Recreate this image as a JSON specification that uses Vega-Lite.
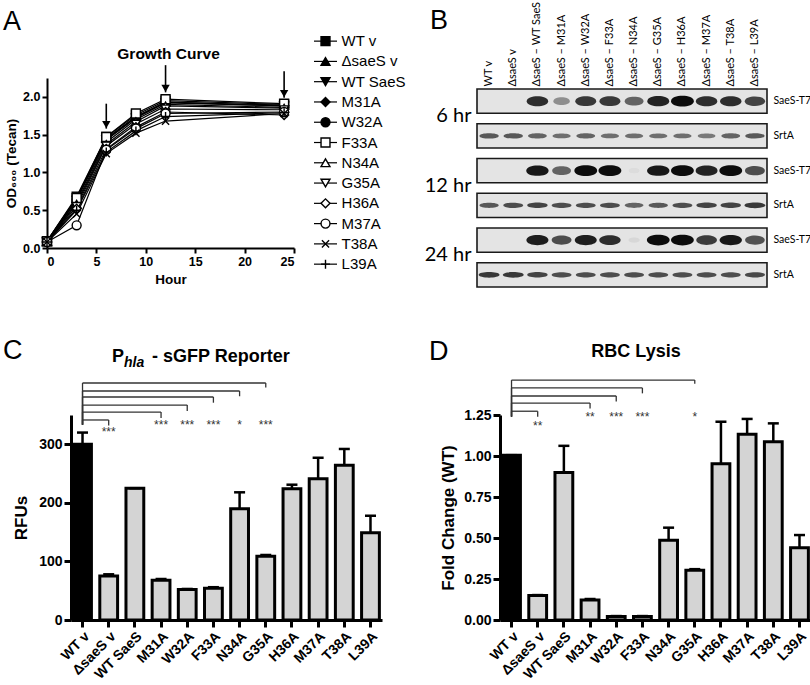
{
  "$schema": "https://vega.github.io/schema/vega-lite/v6.json",
  "padding": 0,
  "background": "white",
  "config": {
    "font": "Liberation Sans",
    "view": {"stroke": null},
    "axis": {"grid": false, "domainColor": "black", "tickColor": "black", "labelColor": "black", "titleColor": "black", "labelFontWeight": "bold", "titleFontWeight": "bold"}
  },
  "datasets": {
    "growth": [
      {"strain": "WT v", "hour": 0, "od": 0.09}, {"strain": "WT v", "hour": 3, "od": 0.68}, {"strain": "WT v", "hour": 6, "od": 1.47}, {"strain": "WT v", "hour": 9, "od": 1.76}, {"strain": "WT v", "hour": 12, "od": 1.95}, {"strain": "WT v", "hour": 24, "od": 1.9},
      {"strain": "ΔsaeS v", "hour": 0, "od": 0.09}, {"strain": "ΔsaeS v", "hour": 3, "od": 0.66}, {"strain": "ΔsaeS v", "hour": 6, "od": 1.45}, {"strain": "ΔsaeS v", "hour": 9, "od": 1.74}, {"strain": "ΔsaeS v", "hour": 12, "od": 1.93}, {"strain": "ΔsaeS v", "hour": 24, "od": 1.89},
      {"strain": "WT SaeS", "hour": 0, "od": 0.08}, {"strain": "WT SaeS", "hour": 3, "od": 0.63}, {"strain": "WT SaeS", "hour": 6, "od": 1.43}, {"strain": "WT SaeS", "hour": 9, "od": 1.72}, {"strain": "WT SaeS", "hour": 12, "od": 1.92}, {"strain": "WT SaeS", "hour": 24, "od": 1.88},
      {"strain": "M31A", "hour": 0, "od": 0.08}, {"strain": "M31A", "hour": 3, "od": 0.6}, {"strain": "M31A", "hour": 6, "od": 1.4}, {"strain": "M31A", "hour": 9, "od": 1.7}, {"strain": "M31A", "hour": 12, "od": 1.9}, {"strain": "M31A", "hour": 24, "od": 1.86},
      {"strain": "W32A", "hour": 0, "od": 0.08}, {"strain": "W32A", "hour": 3, "od": 0.64}, {"strain": "W32A", "hour": 6, "od": 1.44}, {"strain": "W32A", "hour": 9, "od": 1.73}, {"strain": "W32A", "hour": 12, "od": 1.93}, {"strain": "W32A", "hour": 24, "od": 1.88},
      {"strain": "F33A", "hour": 0, "od": 0.09}, {"strain": "F33A", "hour": 3, "od": 0.66}, {"strain": "F33A", "hour": 6, "od": 1.47}, {"strain": "F33A", "hour": 9, "od": 1.78}, {"strain": "F33A", "hour": 12, "od": 1.97}, {"strain": "F33A", "hour": 24, "od": 1.91},
      {"strain": "N34A", "hour": 0, "od": 0.08}, {"strain": "N34A", "hour": 3, "od": 0.58}, {"strain": "N34A", "hour": 6, "od": 1.37}, {"strain": "N34A", "hour": 9, "od": 1.67}, {"strain": "N34A", "hour": 12, "od": 1.88}, {"strain": "N34A", "hour": 24, "od": 1.85},
      {"strain": "G35A", "hour": 0, "od": 0.08}, {"strain": "G35A", "hour": 3, "od": 0.55}, {"strain": "G35A", "hour": 6, "od": 1.35}, {"strain": "G35A", "hour": 9, "od": 1.64}, {"strain": "G35A", "hour": 12, "od": 1.84}, {"strain": "G35A", "hour": 24, "od": 1.83},
      {"strain": "H36A", "hour": 0, "od": 0.08}, {"strain": "H36A", "hour": 3, "od": 0.52}, {"strain": "H36A", "hour": 6, "od": 1.31}, {"strain": "H36A", "hour": 9, "od": 1.6}, {"strain": "H36A", "hour": 12, "od": 1.8}, {"strain": "H36A", "hour": 24, "od": 1.76},
      {"strain": "M37A", "hour": 0, "od": 0.08}, {"strain": "M37A", "hour": 3, "od": 0.3}, {"strain": "M37A", "hour": 6, "od": 1.3}, {"strain": "M37A", "hour": 9, "od": 1.58}, {"strain": "M37A", "hour": 12, "od": 1.78}, {"strain": "M37A", "hour": 24, "od": 1.8},
      {"strain": "T38A", "hour": 0, "od": 0.08}, {"strain": "T38A", "hour": 3, "od": 0.45}, {"strain": "T38A", "hour": 6, "od": 1.25}, {"strain": "T38A", "hour": 9, "od": 1.52}, {"strain": "T38A", "hour": 12, "od": 1.68}, {"strain": "T38A", "hour": 24, "od": 1.78},
      {"strain": "L39A", "hour": 0, "od": 0.08}, {"strain": "L39A", "hour": 3, "od": 0.5}, {"strain": "L39A", "hour": 6, "od": 1.27}, {"strain": "L39A", "hour": 9, "od": 1.55}, {"strain": "L39A", "hour": 12, "od": 1.74}, {"strain": "L39A", "hour": 24, "od": 1.79}
    ],
    "arrows": [
      {"hour": 6, "top": 1.91, "tip": 1.58},
      {"hour": 12, "top": 2.42, "tip": 2.06},
      {"hour": 24, "top": 2.34, "tip": 1.99}
    ],
    "bars": [
      {"strain": "WT v", "rfu": 300, "rfu_hi": 320, "fc": 1.005, "fc_hi": 1.005},
      {"strain": "ΔsaeS v", "rfu": 75, "rfu_hi": 78, "fc": 0.149, "fc_hi": 0.152},
      {"strain": "WT SaeS", "rfu": 225, "rfu_hi": 225, "fc": 0.9, "fc_hi": 1.062},
      {"strain": "M31A", "rfu": 68, "rfu_hi": 70, "fc": 0.122, "fc_hi": 0.128},
      {"strain": "W32A", "rfu": 52, "rfu_hi": 53, "fc": 0.022, "fc_hi": 0.024},
      {"strain": "F33A", "rfu": 54, "rfu_hi": 56, "fc": 0.022, "fc_hi": 0.024},
      {"strain": "N34A", "rfu": 190, "rfu_hi": 218, "fc": 0.487, "fc_hi": 0.563},
      {"strain": "G35A", "rfu": 109, "rfu_hi": 111, "fc": 0.304, "fc_hi": 0.31},
      {"strain": "H36A", "rfu": 224, "rfu_hi": 231, "fc": 0.952, "fc_hi": 1.209},
      {"strain": "M37A", "rfu": 241, "rfu_hi": 277, "fc": 1.132, "fc_hi": 1.226},
      {"strain": "T38A", "rfu": 264, "rfu_hi": 292, "fc": 1.087, "fc_hi": 1.199},
      {"strain": "L39A", "rfu": 149, "rfu_hi": 178, "fc": 0.44, "fc_hi": 0.518}
    ],
    "cmpC": [
      {"from": "WT v", "to": "ΔsaeS v", "level": 341.5, "drop": 332, "star": "***", "sy": 328.8},
      {"from": "WT v", "to": "M31A", "level": 355, "drop": 345, "star": "***", "sy": 342},
      {"from": "WT v", "to": "W32A", "level": 367, "drop": 357, "star": "***", "sy": 342},
      {"from": "WT v", "to": "F33A", "level": 380.7, "drop": 371, "star": "***", "sy": 342},
      {"from": "WT v", "to": "N34A", "level": 391, "drop": 382, "star": "*", "sy": 342},
      {"from": "WT v", "to": "G35A", "level": 404.6, "drop": 397, "star": "***", "sy": 342}
    ],
    "cmpD": [
      {"from": "WT v", "to": "ΔsaeS v", "level": 1.273, "drop": 1.24, "star": "**", "sy": 1.213},
      {"from": "WT v", "to": "M31A", "level": 1.323, "drop": 1.29, "star": "**", "sy": 1.268},
      {"from": "WT v", "to": "W32A", "level": 1.366, "drop": 1.333, "star": "***", "sy": 1.268},
      {"from": "WT v", "to": "F33A", "level": 1.415, "drop": 1.382, "star": "***", "sy": 1.268},
      {"from": "WT v", "to": "G35A", "level": 1.463, "drop": 1.44, "star": "*", "sy": 1.268}
    ],
    "blot": [
      {"row": "6 hr|SaeS-T7", "lane": "WT  v", "v": 0}, {"row": "6 hr|SaeS-T7", "lane": "ΔsaeS  v", "v": 0}, {"row": "6 hr|SaeS-T7", "lane": "ΔsaeS – WT SaeS", "v": 0.85}, {"row": "6 hr|SaeS-T7", "lane": "ΔsaeS – M31A", "v": 0.4}, {"row": "6 hr|SaeS-T7", "lane": "ΔsaeS – W32A", "v": 0.8}, {"row": "6 hr|SaeS-T7", "lane": "ΔsaeS – F33A", "v": 0.8}, {"row": "6 hr|SaeS-T7", "lane": "ΔsaeS – N34A", "v": 0.6}, {"row": "6 hr|SaeS-T7", "lane": "ΔsaeS – G35A", "v": 0.9}, {"row": "6 hr|SaeS-T7", "lane": "ΔsaeS – H36A", "v": 1}, {"row": "6 hr|SaeS-T7", "lane": "ΔsaeS – M37A", "v": 0.85}, {"row": "6 hr|SaeS-T7", "lane": "ΔsaeS – T38A", "v": 0.85}, {"row": "6 hr|SaeS-T7", "lane": "ΔsaeS – L39A", "v": 0.75},
      {"row": "6 hr|SrtA", "lane": "WT  v", "v": 0.65}, {"row": "6 hr|SrtA", "lane": "ΔsaeS  v", "v": 0.65}, {"row": "6 hr|SrtA", "lane": "ΔsaeS – WT SaeS", "v": 0.6}, {"row": "6 hr|SrtA", "lane": "ΔsaeS – M31A", "v": 0.55}, {"row": "6 hr|SrtA", "lane": "ΔsaeS – W32A", "v": 0.6}, {"row": "6 hr|SrtA", "lane": "ΔsaeS – F33A", "v": 0.55}, {"row": "6 hr|SrtA", "lane": "ΔsaeS – N34A", "v": 0.55}, {"row": "6 hr|SrtA", "lane": "ΔsaeS – G35A", "v": 0.55}, {"row": "6 hr|SrtA", "lane": "ΔsaeS – H36A", "v": 0.55}, {"row": "6 hr|SrtA", "lane": "ΔsaeS – M37A", "v": 0.5}, {"row": "6 hr|SrtA", "lane": "ΔsaeS – T38A", "v": 0.6}, {"row": "6 hr|SrtA", "lane": "ΔsaeS – L39A", "v": 0.65},
      {"row": "12 hr|SaeS-T7", "lane": "WT  v", "v": 0}, {"row": "12 hr|SaeS-T7", "lane": "ΔsaeS  v", "v": 0}, {"row": "12 hr|SaeS-T7", "lane": "ΔsaeS – WT SaeS", "v": 0.95}, {"row": "12 hr|SaeS-T7", "lane": "ΔsaeS – M31A", "v": 0.6}, {"row": "12 hr|SaeS-T7", "lane": "ΔsaeS – W32A", "v": 1}, {"row": "12 hr|SaeS-T7", "lane": "ΔsaeS – F33A", "v": 1}, {"row": "12 hr|SaeS-T7", "lane": "ΔsaeS – N34A", "v": 0.04}, {"row": "12 hr|SaeS-T7", "lane": "ΔsaeS – G35A", "v": 0.95}, {"row": "12 hr|SaeS-T7", "lane": "ΔsaeS – H36A", "v": 1}, {"row": "12 hr|SaeS-T7", "lane": "ΔsaeS – M37A", "v": 0.9}, {"row": "12 hr|SaeS-T7", "lane": "ΔsaeS – T38A", "v": 1}, {"row": "12 hr|SaeS-T7", "lane": "ΔsaeS – L39A", "v": 0.7},
      {"row": "12 hr|SrtA", "lane": "WT  v", "v": 0.65}, {"row": "12 hr|SrtA", "lane": "ΔsaeS  v", "v": 0.7}, {"row": "12 hr|SrtA", "lane": "ΔsaeS – WT SaeS", "v": 0.75}, {"row": "12 hr|SrtA", "lane": "ΔsaeS – M31A", "v": 0.7}, {"row": "12 hr|SrtA", "lane": "ΔsaeS – W32A", "v": 0.7}, {"row": "12 hr|SrtA", "lane": "ΔsaeS – F33A", "v": 0.7}, {"row": "12 hr|SrtA", "lane": "ΔsaeS – N34A", "v": 0.6}, {"row": "12 hr|SrtA", "lane": "ΔsaeS – G35A", "v": 0.65}, {"row": "12 hr|SrtA", "lane": "ΔsaeS – H36A", "v": 0.7}, {"row": "12 hr|SrtA", "lane": "ΔsaeS – M37A", "v": 0.75}, {"row": "12 hr|SrtA", "lane": "ΔsaeS – T38A", "v": 0.75}, {"row": "12 hr|SrtA", "lane": "ΔsaeS – L39A", "v": 0.8},
      {"row": "24 hr|SaeS-T7", "lane": "WT  v", "v": 0}, {"row": "24 hr|SaeS-T7", "lane": "ΔsaeS  v", "v": 0}, {"row": "24 hr|SaeS-T7", "lane": "ΔsaeS – WT SaeS", "v": 0.92}, {"row": "24 hr|SaeS-T7", "lane": "ΔsaeS – M31A", "v": 0.7}, {"row": "24 hr|SaeS-T7", "lane": "ΔsaeS – W32A", "v": 0.92}, {"row": "24 hr|SaeS-T7", "lane": "ΔsaeS – F33A", "v": 0.85}, {"row": "24 hr|SaeS-T7", "lane": "ΔsaeS – N34A", "v": 0.06}, {"row": "24 hr|SaeS-T7", "lane": "ΔsaeS – G35A", "v": 1}, {"row": "24 hr|SaeS-T7", "lane": "ΔsaeS – H36A", "v": 1}, {"row": "24 hr|SaeS-T7", "lane": "ΔsaeS – M37A", "v": 0.78}, {"row": "24 hr|SaeS-T7", "lane": "ΔsaeS – T38A", "v": 0.95}, {"row": "24 hr|SaeS-T7", "lane": "ΔsaeS – L39A", "v": 0.68},
      {"row": "24 hr|SrtA", "lane": "WT  v", "v": 0.8}, {"row": "24 hr|SrtA", "lane": "ΔsaeS  v", "v": 0.8}, {"row": "24 hr|SrtA", "lane": "ΔsaeS – WT SaeS", "v": 0.75}, {"row": "24 hr|SrtA", "lane": "ΔsaeS – M31A", "v": 0.7}, {"row": "24 hr|SrtA", "lane": "ΔsaeS – W32A", "v": 0.7}, {"row": "24 hr|SrtA", "lane": "ΔsaeS – F33A", "v": 0.7}, {"row": "24 hr|SrtA", "lane": "ΔsaeS – N34A", "v": 0.7}, {"row": "24 hr|SrtA", "lane": "ΔsaeS – G35A", "v": 0.7}, {"row": "24 hr|SrtA", "lane": "ΔsaeS – H36A", "v": 0.7}, {"row": "24 hr|SrtA", "lane": "ΔsaeS – M37A", "v": 0.7}, {"row": "24 hr|SrtA", "lane": "ΔsaeS – T38A", "v": 0.7}, {"row": "24 hr|SrtA", "lane": "ΔsaeS – L39A", "v": 0.72}
    ],
    "one": [{"k": 1}]
  },
  "columns": 2,
  "align": "none",
  "spacing": 0,
  "concat": [
    {"width": 1, "height": 1, "data": {"name": "one"}, "mark": {"type": "rect", "opacity": 0}, "encoding": {}},
    {
      "columns": 3,
      "align": "none",
      "spacing": 0,
      "concat": [
        {"width": 1, "height": 1, "data": {"name": "one"}, "mark": {"type": "rect", "opacity": 0}, "encoding": {}},
        {"width": 1, "height": 1, "data": {"name": "one"}, "mark": {"type": "rect", "opacity": 0}, "encoding": {}},
        {"width": 1, "height": 1, "data": {"name": "one"}, "mark": {"type": "rect", "opacity": 0}, "encoding": {}},
        {
          "width": 247,
          "height": 170,
          "layer": [
            {
              "data": {"name": "growth"},
              "mark": {"type": "line", "color": "black", "strokeWidth": 1.2},
              "encoding": {
                "x": {"field": "hour", "type": "quantitative", "scale": {"domain": [0, 25], "nice": false}, "axis": {"values": [0, 5, 10, 15, 20, 25], "title": "Hour", "domainWidth": 2, "tickWidth": 2, "tickSize": 5, "labelFontSize": 12.5, "titleFontSize": 13.5, "labelPadding": 2, "titlePadding": 5}},
                "y": {"field": "od", "type": "quantitative", "scale": {"domain": [0, 2.25], "nice": false}, "axis": {"values": [0, 0.5, 1, 1.5, 2], "format": ".1f", "title": "OD₆₀₀ (Tecan)", "domainWidth": 2, "tickWidth": 2, "tickSize": 5, "labelFontSize": 12.5, "titleFontSize": 13.5, "labelPadding": 2, "titlePadding": 4}},
                "detail": {"field": "strain", "type": "nominal"}
              }
            },
            {
              "data": {"name": "growth"},
              "mark": {"type": "point", "filled": true, "stroke": "black", "strokeWidth": 1.4, "opacity": 1, "size": 80},
              "encoding": {
                "x": {"field": "hour", "type": "quantitative"},
                "y": {"field": "od", "type": "quantitative"},
                "shape": {"field": "strain", "type": "nominal", "legend": null, "scale": {"domain": ["WT v", "ΔsaeS v", "WT SaeS", "M31A", "W32A", "F33A", "N34A", "G35A", "H36A", "M37A", "T38A", "L39A"], "range": ["square", "triangle-up", "triangle-down", "diamond", "circle", "square", "triangle-up", "triangle-down", "diamond", "circle", "M-0.8,-0.8L0.8,0.8M-0.8,0.8L0.8,-0.8", "M-1,0L1,0M0,-1L0,1"]}},
                "fill": {"field": "strain", "type": "nominal", "legend": null, "scale": {"domain": ["WT v", "ΔsaeS v", "WT SaeS", "M31A", "W32A", "F33A", "N34A", "G35A", "H36A", "M37A", "T38A", "L39A"], "range": ["black", "black", "black", "black", "black", "white", "white", "white", "white", "white", "black", "black"]}}
              }
            },
            {
              "data": {"name": "arrows"},
              "mark": {"type": "rule", "color": "black", "strokeWidth": 1.6},
              "encoding": {"x": {"field": "hour", "type": "quantitative"}, "y": {"field": "top", "type": "quantitative"}, "y2": {"field": "tip"}}
            },
            {
              "data": {"name": "arrows"},
              "mark": {"type": "point", "shape": "triangle-down", "filled": true, "color": "black", "opacity": 1, "size": 70, "yOffset": -4},
              "encoding": {"x": {"field": "hour", "type": "quantitative"}, "y": {"field": "tip", "type": "quantitative"}}
            },
            {
              "data": {"name": "one"},
              "mark": {"type": "text", "text": "Growth Curve", "fontSize": 15.5, "fontWeight": "bold", "align": "center", "baseline": "alphabetic"},
              "encoding": {"x": {"datum": 12.3, "type": "quantitative"}, "y": {"datum": 2.5, "type": "quantitative"}}
            },
            {
              "data": {"name": "one"},
              "mark": {"type": "text", "text": "A", "fontSize": 27, "align": "left", "baseline": "alphabetic"},
              "encoding": {"x": {"datum": -4.45, "type": "quantitative"}, "y": {"datum": 2.885, "type": "quantitative"}}
            },
            {
              "data": {"name": "one"},
              "mark": {"type": "rect", "opacity": 0},
              "encoding": {"x": {"datum": -4.555, "type": "quantitative"}, "x2": {"datum": 26.316}, "y": {"datum": 3.256, "type": "quantitative"}, "y2": {"datum": -0.979}}
            }
          ]
        },
        {
          "width": 23,
          "height": 243.3,
          "layer": [
            {
              "data": {"name": "growth"},
              "transform": [{"filter": "datum.hour === 0"}],
              "layer": [
                {
                  "mark": {"type": "rule", "color": "black", "strokeWidth": 1.2},
                  "encoding": {
                    "x": {"datum": 0, "type": "quantitative", "scale": {"domain": [0, 1], "nice": false}, "axis": null},
                    "x2": {"datum": 1},
                    "y": {"field": "strain", "type": "nominal", "scale": {"type": "point", "padding": 0.5, "domain": ["WT v", "ΔsaeS v", "WT SaeS", "M31A", "W32A", "F33A", "N34A", "G35A", "H36A", "M37A", "T38A", "L39A"]}, "axis": null}
                  }
                },
                {
                  "mark": {"type": "point", "filled": true, "stroke": "black", "strokeWidth": 1.4, "opacity": 1, "size": 80},
                  "encoding": {
                    "x": {"datum": 0.5, "type": "quantitative"},
                    "y": {"field": "strain", "type": "nominal"},
                    "shape": {"field": "strain", "type": "nominal", "legend": null, "scale": {"domain": ["WT v", "ΔsaeS v", "WT SaeS", "M31A", "W32A", "F33A", "N34A", "G35A", "H36A", "M37A", "T38A", "L39A"], "range": ["square", "triangle-up", "triangle-down", "diamond", "circle", "square", "triangle-up", "triangle-down", "diamond", "circle", "M-0.8,-0.8L0.8,0.8M-0.8,0.8L0.8,-0.8", "M-1,0L1,0M0,-1L0,1"]}},
                    "fill": {"field": "strain", "type": "nominal", "legend": null, "scale": {"domain": ["WT v", "ΔsaeS v", "WT SaeS", "M31A", "W32A", "F33A", "N34A", "G35A", "H36A", "M37A", "T38A", "L39A"], "range": ["black", "black", "black", "black", "black", "white", "white", "white", "white", "white", "black", "black"]}}
                  }
                },
                {
                  "mark": {"type": "text", "align": "left", "baseline": "middle", "fontSize": 15},
                  "encoding": {
                    "x": {"datum": 1.2, "type": "quantitative"},
                    "y": {"field": "strain", "type": "nominal"},
                    "text": {"field": "strain", "type": "nominal"}
                  }
                }
              ]
            },
            {
              "data": {"name": "one"},
              "mark": {"type": "rect", "opacity": 0},
              "encoding": {"x": {"datum": -0.2174, "type": "quantitative"}, "x2": {"datum": 4.565}, "y": {"datum": 1.12, "type": "quantitative", "scale": {"domain": [0, 1], "nice": false}, "axis": null}, "y2": {"datum": -0.1952}}
            }
          ],
          "resolve": {"scale": {"y": "independent"}}
        },
        {
          "width": 290,
          "height": 198,
          "layer": [
            {
              "data": {"name": "blot"},
              "layer": [
                {
                  "transform": [{"aggregate": [{"op": "count", "as": "n"}], "groupby": ["row"]}],
                  "mark": {"type": "rect", "fill": "#e4e4e4", "stroke": "#1a1a1a", "strokeWidth": 1.6},
                  "encoding": {
                    "y": {"field": "row", "type": "nominal", "scale": {"type": "band", "domain": ["6 hr|SaeS-T7", "6 hr|SrtA", "12 hr|SaeS-T7", "12 hr|SrtA", "24 hr|SaeS-T7", "24 hr|SrtA"], "paddingInner": 0.3, "paddingOuter": 0}, "axis": {"orient": "left", "title": null, "domain": false, "ticks": false, "labelExpr": "indexof(datum.value, 'SaeS') >= 0 ? split(datum.value, '|')[0] : ''", "labelFont": "Lato", "labelFontWeight": "normal", "labelFontSize": 20, "labelPadding": 6, "labelOffset": 15}}
                  }
                },
                {
                  "transform": [{"filter": "indexof(datum.row, 'SaeS') >= 0"}],
                  "mark": {"type": "point", "filled": true, "color": "#0d0d0d", "strokeWidth": 0, "shape": "M-1,0C-1,-0.62,1,-0.62,1,0C1,0.62,-1,0.62,-1,0Z"},
                  "encoding": {
                    "x": {"field": "lane", "type": "nominal", "scale": {"type": "band", "domain": ["WT  v", "ΔsaeS  v", "ΔsaeS – WT SaeS", "ΔsaeS – M31A", "ΔsaeS – W32A", "ΔsaeS – F33A", "ΔsaeS – N34A", "ΔsaeS – G35A", "ΔsaeS – H36A", "ΔsaeS – M37A", "ΔsaeS – T38A", "ΔsaeS – L39A"], "paddingInner": 0, "paddingOuter": 0}, "axis": {"orient": "top", "title": null, "domain": false, "ticks": false, "labelAngle": 270, "labelFont": "Lato", "labelFontWeight": "normal", "labelFontSize": 11, "labelPadding": 3}},
                    "y": {"field": "row", "type": "nominal", "scale": {"type": "band"}, "axis": {"orient": "right", "title": null, "domain": false, "ticks": false, "labelExpr": "split(datum.value, '|')[1]", "labelFont": "Lato", "labelFontWeight": "normal", "labelFontSize": 10.5, "labelPadding": 6}},
                    "size": {"field": "v", "type": "quantitative", "legend": null, "scale": {"domain": [0, 1], "range": [100, 520]}},
                    "opacity": {"field": "v", "type": "quantitative", "legend": null, "scale": {"domain": [0, 1], "range": [0, 1]}}
                  }
                },
                {
                  "transform": [{"filter": "indexof(datum.row, 'SrtA') >= 0"}],
                  "mark": {"type": "point", "filled": true, "color": "#0d0d0d", "strokeWidth": 0, "shape": "M-1,0C-1,-0.36,1,-0.36,1,0C1,0.36,-1,0.36,-1,0Z"},
                  "encoding": {
                    "x": {"field": "lane", "type": "nominal"},
                    "y": {"field": "row", "type": "nominal", "scale": {"type": "band"}, "axis": null},
                    "size": {"field": "v", "type": "quantitative", "legend": null, "scale": {"domain": [0, 1], "range": [100, 520]}},
                    "opacity": {"field": "v", "type": "quantitative", "legend": null, "scale": {"domain": [0, 1], "range": [0, 1]}}
                  }
                }
              ],
              "resolve": {"axis": {"y": "independent"}}
            },
            {
              "data": {"name": "one"},
              "layer": [
                {
                  "mark": {"type": "rect", "opacity": 0},
                  "encoding": {"x": {"datum": -0.1966, "type": "quantitative", "scale": {"domain": [0, 1], "nice": false}, "axis": null}, "x2": {"datum": 1.1655}, "y": {"datum": 1.4394, "type": "quantitative", "scale": {"domain": [0, 1], "nice": false}, "axis": null}, "y2": {"datum": -0.1768}}
                },
                {
                  "mark": {"type": "text", "text": "B", "fontSize": 27, "align": "left", "baseline": "alphabetic"},
                  "encoding": {"x": {"datum": -0.162, "type": "quantitative"}, "y": {"datum": 1.303, "type": "quantitative"}}
                }
              ]
            }
          ],
          "resolve": {"scale": {"x": "independent", "y": "independent"}}
        }
      ]
    },
    {"width": 1, "height": 1, "data": {"name": "one"}, "mark": {"type": "rect", "opacity": 0}, "encoding": {}},
    {
      "spacing": 0,
      "hconcat": [
        {
          "width": 311,
          "height": 205,
          "layer": [
            {
              "data": {"name": "bars"},
              "layer": [
                {
                  "mark": {"type": "bar", "stroke": "black", "strokeWidth": 3},
                  "encoding": {
                    "x": {"field": "strain", "type": "nominal", "scale": {"domain": ["WT v", "ΔsaeS v", "WT SaeS", "M31A", "W32A", "F33A", "N34A", "G35A", "H36A", "M37A", "T38A", "L39A"], "paddingInner": 0.32, "paddingOuter": 0.1}, "axis": {"title": null, "labelAngle": -45, "domainWidth": 3, "tickWidth": 3, "tickSize": 7, "labelFontSize": 14, "labelPadding": 2}},
                    "y": {"field": "rfu", "type": "quantitative", "scale": {"domain": [0, 350], "nice": false}, "axis": {"values": [0, 50, 100, 150, 200, 250, 300, 350], "title": "RFUs", "domainWidth": 3, "tickWidth": 3, "tickSize": 7, "labelFontSize": 14, "titleFontSize": 17, "labelPadding": 2, "titlePadding": 8}},
                    "fill": {"condition": {"test": "datum.strain === 'WT v'", "value": "black"}, "value": "#d4d4d4"}
                  }
                },
                {
                  "mark": {"type": "rule", "color": "black", "strokeWidth": 2.5},
                  "encoding": {"x": {"field": "strain", "type": "nominal"}, "y": {"field": "rfu", "type": "quantitative"}, "y2": {"field": "rfu_hi"}}
                },
                {
                  "mark": {"type": "tick", "color": "black", "thickness": 2.5, "size": 11, "opacity": 1},
                  "encoding": {"x": {"field": "strain", "type": "nominal"}, "y": {"field": "rfu_hi", "type": "quantitative"}}
                },
                {
                  "data": {"name": "cmpC"},
                  "mark": {"type": "rule", "color": "#333", "strokeWidth": 1.3},
                  "encoding": {"x": {"field": "from", "type": "nominal"}, "x2": {"field": "to"}, "y": {"field": "level", "type": "quantitative"}}
                },
                {
                  "data": {"name": "cmpC"},
                  "mark": {"type": "rule", "color": "#333", "strokeWidth": 1.3},
                  "encoding": {"x": {"field": "to", "type": "nominal"}, "y": {"field": "level", "type": "quantitative"}, "y2": {"field": "drop"}}
                },
                {
                  "data": {"name": "cmpC"},
                  "mark": {"type": "rule", "color": "#333", "strokeWidth": 1.3},
                  "encoding": {"x": {"field": "from", "type": "nominal"}, "y": {"field": "level", "type": "quantitative"}, "y2": {"datum": 333.4}}
                },
                {
                  "data": {"name": "cmpC"},
                  "mark": {"type": "text", "fontSize": 12, "color": "#333", "align": "center", "baseline": "top"},
                  "encoding": {"x": {"field": "to", "type": "nominal"}, "y": {"field": "sy", "type": "quantitative"}, "text": {"field": "star", "type": "nominal"}}
                }
              ]
            },
            {
              "data": {"name": "one"},
              "layer": [
                {
                  "mark": {"type": "rect", "opacity": 0},
                  "encoding": {"x": {"datum": -0.2219, "type": "quantitative", "scale": {"domain": [0, 1], "nice": false}, "axis": null}, "x2": {"datum": 1.1125}, "y": {"datum": 505.4, "type": "quantitative"}, "y2": {"datum": -117.8}}
                },
                {
                  "mark": {"type": "text", "text": "C", "fontSize": 27, "align": "left", "baseline": "alphabetic"},
                  "encoding": {"x": {"datum": -0.2186, "type": "quantitative"}, "y": {"datum": 445.6, "type": "quantitative"}}
                },
                {
                  "mark": {"type": "text", "text": "P", "fontSize": 18, "fontWeight": "bold", "align": "left", "baseline": "alphabetic"},
                  "encoding": {"x": {"datum": 0.1318, "type": "quantitative"}, "y": {"datum": 440.5, "type": "quantitative"}}
                },
                {
                  "mark": {"type": "text", "text": "hla", "fontSize": 14, "fontWeight": "bold", "fontStyle": "italic", "align": "left", "baseline": "alphabetic"},
                  "encoding": {"x": {"datum": 0.1704, "type": "quantitative"}, "y": {"datum": 432, "type": "quantitative"}}
                },
                {
                  "mark": {"type": "text", "text": "- sGFP Reporter", "fontSize": 18, "fontWeight": "bold", "align": "left", "baseline": "alphabetic"},
                  "encoding": {"x": {"datum": 0.2605, "type": "quantitative"}, "y": {"datum": 440.5, "type": "quantitative"}}
                }
              ]
            }
          ],
          "resolve": {"scale": {"x": "independent"}}
        },
        {
          "width": 311,
          "height": 205,
          "layer": [
            {
              "data": {"name": "bars"},
              "layer": [
                {
                  "mark": {"type": "bar", "stroke": "black", "strokeWidth": 3},
                  "encoding": {
                    "x": {"field": "strain", "type": "nominal", "scale": {"domain": ["WT v", "ΔsaeS v", "WT SaeS", "M31A", "W32A", "F33A", "N34A", "G35A", "H36A", "M37A", "T38A", "L39A"], "paddingInner": 0.32, "paddingOuter": 0.1}, "axis": {"title": null, "labelAngle": -45, "domainWidth": 3, "tickWidth": 3, "tickSize": 7, "labelFontSize": 14, "labelPadding": 2}},
                    "y": {"field": "fc", "type": "quantitative", "scale": {"domain": [0, 1.25], "nice": false}, "axis": {"values": [0, 0.25, 0.5, 0.75, 1, 1.25], "format": ".2f", "title": "Fold Change  (WT)", "domainWidth": 3, "tickWidth": 3, "tickSize": 7, "labelFontSize": 14, "titleFontSize": 17, "labelPadding": 2, "titlePadding": 6}},
                    "fill": {"condition": {"test": "datum.strain === 'WT v'", "value": "black"}, "value": "#d4d4d4"}
                  }
                },
                {
                  "mark": {"type": "rule", "color": "black", "strokeWidth": 2.5},
                  "encoding": {"x": {"field": "strain", "type": "nominal"}, "y": {"field": "fc", "type": "quantitative"}, "y2": {"field": "fc_hi"}}
                },
                {
                  "mark": {"type": "tick", "color": "black", "thickness": 2.5, "size": 11, "opacity": 1},
                  "encoding": {"x": {"field": "strain", "type": "nominal"}, "y": {"field": "fc_hi", "type": "quantitative"}}
                },
                {
                  "data": {"name": "cmpD"},
                  "mark": {"type": "rule", "color": "#333", "strokeWidth": 1.3},
                  "encoding": {"x": {"field": "from", "type": "nominal"}, "x2": {"field": "to"}, "y": {"field": "level", "type": "quantitative"}}
                },
                {
                  "data": {"name": "cmpD"},
                  "mark": {"type": "rule", "color": "#333", "strokeWidth": 1.3},
                  "encoding": {"x": {"field": "to", "type": "nominal"}, "y": {"field": "level", "type": "quantitative"}, "y2": {"field": "drop"}}
                },
                {
                  "data": {"name": "cmpD"},
                  "mark": {"type": "rule", "color": "#333", "strokeWidth": 1.3},
                  "encoding": {"x": {"field": "from", "type": "nominal"}, "y": {"field": "level", "type": "quantitative"}, "y2": {"datum": 1.24}}
                },
                {
                  "data": {"name": "cmpD"},
                  "mark": {"type": "text", "fontSize": 12, "color": "#333", "align": "center", "baseline": "top"},
                  "encoding": {"x": {"field": "to", "type": "nominal"}, "y": {"field": "sy", "type": "quantitative"}, "text": {"field": "star", "type": "nominal"}}
                }
              ]
            },
            {
              "data": {"name": "one"},
              "layer": [
                {
                  "mark": {"type": "rect", "opacity": 0},
                  "encoding": {"x": {"datum": -0.2637, "type": "quantitative", "scale": {"domain": [0, 1], "nice": false}, "axis": null}, "x2": {"datum": 1.0064}, "y": {"datum": 1.805, "type": "quantitative"}, "y2": {"datum": -0.4207}}
                },
                {
                  "mark": {"type": "text", "text": "D", "fontSize": 27, "align": "left", "baseline": "alphabetic"},
                  "encoding": {"x": {"datum": -0.2283, "type": "quantitative"}, "y": {"datum": 1.585, "type": "quantitative"}}
                },
                {
                  "mark": {"type": "text", "text": "RBC Lysis", "fontSize": 18, "fontWeight": "bold", "align": "center", "baseline": "alphabetic"},
                  "encoding": {"x": {"datum": 0.4373, "type": "quantitative"}, "y": {"datum": 1.605, "type": "quantitative"}}
                }
              ]
            }
          ],
          "resolve": {"scale": {"x": "independent"}}
        }
      ]
    }
  ]
}
